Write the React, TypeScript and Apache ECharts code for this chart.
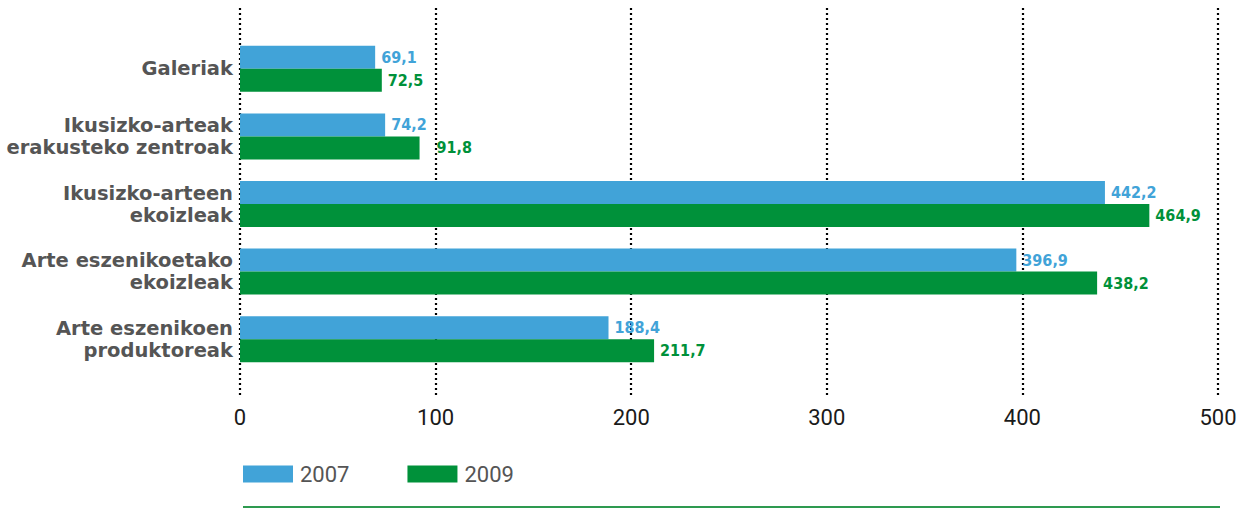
import React, { useEffect, useRef } from "react";
import * as echarts from "echarts";

const categories = [
  "Galeriak",
  "Ikusizko-arteak\nerakusteko zentroak",
  "Ikusizko-arteen\nekoizleak",
  "Arte eszenikoetako\nekoizleak",
  "Arte eszenikoen\nproduktoreak",
];
const values2007 = [69.1, 74.2, 442.2, 396.9, 188.4];
const values2009 = [72.5, 91.8, 464.9, 438.2, 211.7];
const seriesNames = ["2007", "2009"];
const axisTicks = [0, 100, 200, 300, 400, 500];

const BLUE = "#41a3d8";
const GREEN = "#00913a";

const fmt = (v: number) => v.toFixed(1).replace(".", ",");

export default function App() {
  const ref = useRef<HTMLDivElement>(null);
  useEffect(() => {
    if (!ref.current) return;
    const chart = echarts.init(ref.current, undefined, { renderer: "svg" });
    const labelFont = "'DejaVu Sans Condensed', 'Liberation Sans Narrow', sans-serif";
    const makeLabel = (color: string) => ({
      show: true,
      position: "right",
      distance: 6,
      color,
      fontFamily: labelFont,
      fontWeight: "bold",
      fontSize: 16,
      formatter: (p: any) => fmt(p.value),
    });
    chart.setOption({
      animation: false,
      grid: [
        { left: 240, right: 33, top: 35, bottom: 508 - 373, containLabel: false },
        { left: 240, right: 33, top: 8, bottom: 508 - 397, containLabel: false },
      ],
      legend: {
        left: 243,
        top: 463,
        padding: 0,
        itemWidth: 50,
        itemHeight: 17,
        itemGap: 58,
        icon: "rect",
        textStyle: {
          fontSize: 22,
          color: "#555",
          fontFamily: "Roboto, sans-serif",
          padding: [0, 0, 0, 2],
        },
        data: seriesNames,
      },
      xAxis: [
        {
          gridIndex: 0,
          type: "value",
          min: axisTicks[0],
          max: axisTicks[axisTicks.length - 1],
          interval: 100,
          show: false,
          splitLine: { show: false },
        },
        {
          gridIndex: 1,
          type: "value",
          min: axisTicks[0],
          max: axisTicks[axisTicks.length - 1],
          interval: 100,
          axisLine: { show: false },
          axisTick: { show: false },
          axisLabel: {
            margin: 9,
            fontSize: 22,
            color: "#1a1a1a",
            fontFamily: "Roboto, sans-serif",
          },
          splitLine: {
            show: true,
            lineStyle: { color: "#000", width: 2.2, type: [2, 3] },
          },
        },
      ],
      yAxis: [
        {
          gridIndex: 0,
          type: "category",
          inverse: true,
          data: categories,
          axisLine: { show: false },
          axisTick: { show: false },
          axisLabel: {
            margin: 7,
            fontSize: 19.5,
            fontWeight: "bold",
            color: "#555",
            lineHeight: 22,
            align: "right",
            fontFamily: "'DejaVu Sans', sans-serif",
          },
        },
        {
          gridIndex: 1,
          type: "value",
          show: false,
          splitLine: { show: false },
        },
      ],
      series: [
        {
          name: seriesNames[0],
          type: "bar",
          xAxisIndex: 0,
          yAxisIndex: 0,
          barWidth: 23,
          barGap: "0%",
          itemStyle: { color: BLUE },
          label: makeLabel(BLUE),
          data: values2007,
        },
        {
          name: seriesNames[1],
          type: "bar",
          xAxisIndex: 0,
          yAxisIndex: 0,
          barWidth: 23,
          barGap: "0%",
          itemStyle: { color: GREEN },
          label: makeLabel(GREEN),
          data: values2009.map((v, i) =>
            i === 1 ? { value: v, label: { distance: 17 } } : v
          ),
        },
      ],
      graphic: [
        {
          type: "line",
          shape: { x1: 243, y1: 507, x2: 1220, y2: 507 },
          style: { stroke: "#2e9a50", lineWidth: 2 },
        },
      ],
    });
    return () => chart.dispose();
  }, []);
  return (
    <div
      ref={ref}
      style={{ position: "absolute", left: 0, top: 0, width: 1251, height: 508 }}
    />
  );
}
